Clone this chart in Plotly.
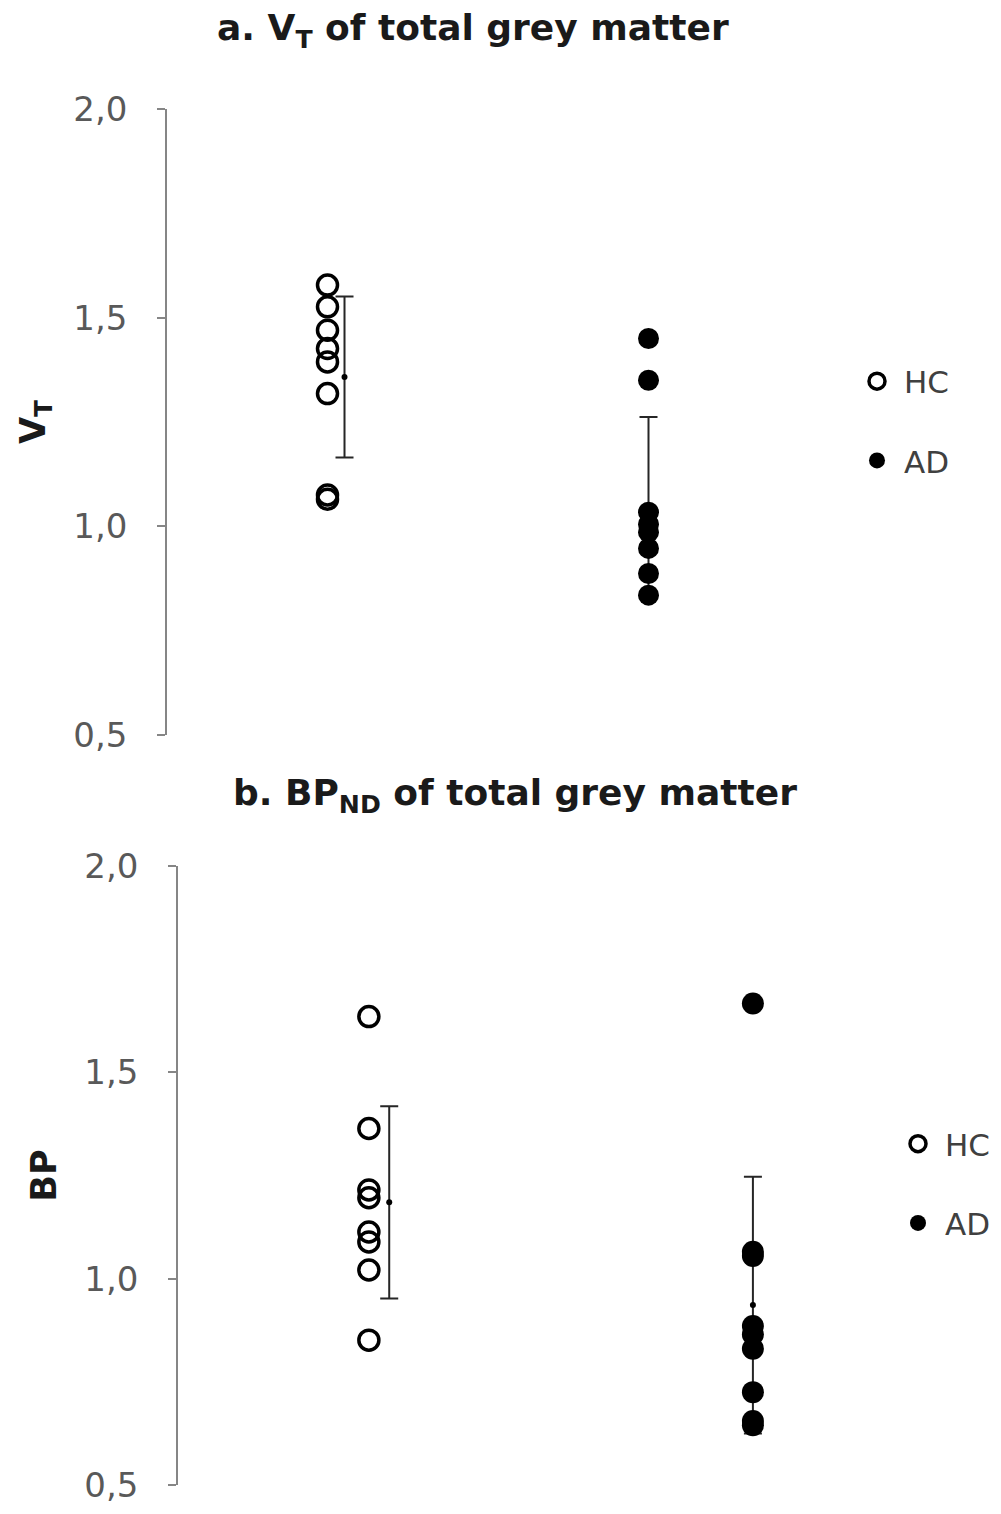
import plotly.graph_objects as go

# ---------------- data ----------------
groups = ["HC", "AD"]
group_pos = [1, 2]

# panel a: V_T of total grey matter
a_hc = [1.578, 1.526, 1.470, 1.426, 1.394, 1.318, 1.075, 1.065]
a_ad = [1.450, 1.350, 1.034, 1.005, 0.986, 0.947, 0.887, 0.835]
a_mean = [1.358, 1.050]
a_sd = [0.193, 0.212]

# panel b: BP_ND of total grey matter
b_hc = [1.635, 1.364, 1.215, 1.196, 1.113, 1.089, 1.021, 0.851]
b_ad = [1.667, 1.065, 1.055, 0.885, 0.865, 0.830, 0.725, 0.655, 0.645]
b_mean = [1.185, 0.936]
b_sd = [0.233, 0.311]

tick_vals = [0.5, 1.0, 1.5, 2.0]
tick_text = ["0,5", "1,0", "1,5", "2,0"]

# ---------------- style ----------------
FONT = "DejaVu Sans"
W, H = 1001, 1514
err_offset = [0.053, 0.0]   # mean/SD bar drawn slightly right of HC column

fig = go.Figure()

def add_panel(xa, ya, legend, hc, ad, mean, sd, hc_size, ad_size):
    # mean +/- SD
    fig.add_trace(go.Scatter(
        x=[p + o for p, o in zip(group_pos, err_offset)], y=mean,
        mode="markers", xaxis=xa, yaxis=ya, showlegend=False,
        marker=dict(symbol="circle", size=6, color="black"),
        error_y=dict(type="data", array=sd, visible=True,
                     color="#262626", thickness=2, width=9),
        hoverinfo="skip"))
    fig.add_trace(go.Scatter(
        x=[group_pos[0]] * len(hc), y=hc, mode="markers", name=groups[0],
        xaxis=xa, yaxis=ya, legend=legend, legendgroup=legend + "hc",
        marker=dict(symbol="circle-open", size=hc_size, color="black",
                    line=dict(width=3.5, color="black"))))
    fig.add_trace(go.Scatter(
        x=[group_pos[1]] * len(ad), y=ad, mode="markers", name=groups[1],
        xaxis=xa, yaxis=ya, legend=legend, legendgroup=legend + "ad",
        marker=dict(symbol="circle", size=ad_size, color="black")))

add_panel("x", "y", "legend", a_hc, a_ad, a_mean, a_sd, 20, 21)
add_panel("x2", "y2", "legend2", b_hc, b_ad, b_mean, b_sd, 20, 22)

yaxis_common = dict(
    range=[0.5, 2.0], tickvals=tick_vals, ticktext=tick_text,
    showline=True, linecolor="#868686", linewidth=1.5,
    ticks="outside", ticklen=8, tickcolor="#868686", tickwidth=1.5,
    showgrid=False, zeroline=False, automargin=False,
    tickfont=dict(family=FONT, size=34, color="#595959"),
    ticklabelstandoff=23,
)
xaxis_common = dict(visible=False, showgrid=False, zeroline=False,
                    automargin=False)

def ydom(top_px, bot_px):
    return [1 - bot_px / H, 1 - top_px / H]

legend_common = dict(
    font=dict(family=FONT, size=31, color="#404040"),
    traceorder="grouped", tracegroupgap=36,
    bgcolor="rgba(0,0,0,0)", xanchor="left", yanchor="middle",
    itemwidth=44,
)

title_font = dict(family=FONT, size=36, color="#1a1a1a")
axis_title_font = dict(family=FONT, size=35, color="#1a1a1a")

fig.update_layout(
    width=W, height=H,
    margin=dict(l=0, r=0, t=0, b=0, autoexpand=False),
    paper_bgcolor="white", plot_bgcolor="white",
    xaxis=dict(domain=[167 / W, 809 / W], range=[0.5, 2.5], **xaxis_common),
    xaxis2=dict(domain=[178 / W, 900 / W], range=[0.503, 2.383], **xaxis_common),
    yaxis=dict(domain=ydom(109, 735), anchor="x",
               title=dict(text="<b>V<sub>T</sub></b>", standoff=17,
                          font=axis_title_font),
               **yaxis_common),
    yaxis2=dict(domain=ydom(866, 1485), anchor="x2",
                title=dict(text="<b>BP</b>", standoff=17,
                           font=axis_title_font),
                **yaxis_common),
    legend=dict(x=850 / W, y=1 - 421 / H, **legend_common),
    legend2=dict(x=891 / W, y=1 - 1183.5 / H, **legend_common),
    annotations=[
        dict(text="<b>a. V<sub>T</sub> of total grey matter</b>",
             x=473 / W, y=1 - 30 / H, xref="paper", yref="paper",
             xanchor="center", yanchor="middle", showarrow=False,
             font=title_font),
        dict(text="<b>b. BP<sub>ND</sub> of total grey matter</b>",
             x=515 / W, y=1 - 795 / H, xref="paper", yref="paper",
             xanchor="center", yanchor="middle", showarrow=False,
             font=title_font),
    ],
)

fig.write_html("out.html")
